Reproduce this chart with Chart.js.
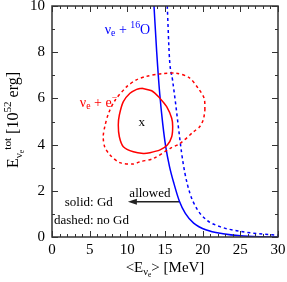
<!DOCTYPE html>
<html>
<head>
<meta charset="utf-8">
<script src="https://cdn.jsdelivr.net/npm/chart.js@4.4.0/dist/chart.umd.min.js"></script>
<style>
body { margin: 0; background: #fff; }
</style>
</head>
<body>
<canvas id="myChart" width="287" height="282"></canvas>
<script>
// nu_e + 16O limit, solid: with Gd
const oxySolidX = [13.54, 13.9, 14.3, 14.7, 15.1, 15.6, 16.2, 16.9, 17.7, 18.8, 20.5, 22.7, 25, 27.5, 30];
const oxySolidY = [10, 8.0, 6.2, 4.9, 3.9, 3.05, 2.3, 1.56, 1.02, 0.6, 0.3, 0.14, 0.05, 0.01, 0];
// dashed: no Gd
const oxyDashedX = [15.3, 15.6, 16.0, 16.4, 16.8, 17.2, 17.65, 18.3, 19.2, 20.5, 22.3, 24.5, 27.2, 29.5, 30];
const oxyDashedY = [10, 7.7, 6.8, 5.8, 4.7, 3.65, 2.75, 1.9, 1.24, 0.74, 0.45, 0.27, 0.15, 0.09, 0.08];

// nu_e + e contours
const elSolidX = [11.9, 13.23, 14.34, 15.22, 15.89, 16.02, 15.89, 15.31, 14.34, 13.0, 12.12, 10.8, 9.47, 8.94, 8.8, 8.94, 9.47, 10.35, 11.24, 11.9];
const elSolidY = [6.44, 6.33, 6.0, 5.64, 5.14, 4.78, 4.34, 3.98, 3.77, 3.65, 3.62, 3.69, 3.91, 4.34, 4.85, 5.28, 5.86, 6.22, 6.39, 6.44];
const elDashedX = [20.3, 20.2, 19.4, 18.2, 16.5, 14.5, 12.5, 11.2, 9.9, 8.4, 7.5, 7.0, 6.8, 7.0, 7.7, 9.0, 10.8, 11.7, 13.45, 15.7, 17.0, 18.8, 19.6, 20.1, 20.3];
const elDashedY = [5.5, 6.0, 6.44, 6.9, 7.09, 7.07, 6.95, 6.8, 6.5, 5.93, 5.35, 4.77, 4.34, 3.9, 3.55, 3.22, 3.16, 3.26, 3.4, 3.84, 4.05, 4.56, 4.77, 5.1, 5.5];

// true point
const markX = [11.9];
const markY = [4.95];

// "allowed" arrow
const arrowX = [16.9, 10.6];
const arrowY = [1.53, 1.53];

const xTicks = [0, 5, 10, 15, 20, 25, 30];
const yTicks = [0, 2, 4, 6, 8, 10];

const FONT = 'Liberation Serif';

function pts(xs, ys) {
    return xs.map((x, i) => ({ x: x, y: ys[i] }));
}

// draws text pieces with sub/superscripts, returns width
function richText(ctx, parts, size, x, y, doDraw) {
    let cx = x;
    for (const p of parts) {
        const s = size * (p.s || 1);
        ctx.font = s + 'px "' + FONT + '"';
        if (doDraw) ctx.fillText(p.t, cx, y + size * (p.dy || 0));
        cx += ctx.measureText(p.t).width;
    }
    return cx - x;
}

function drawLabel(ctx, parts, size, x, y, color, align) {
    ctx.fillStyle = color;
    ctx.textAlign = 'left';
    ctx.textBaseline = 'middle';
    let w = richText(ctx, parts, size, 0, 0, false);
    let sx = align === 'center' ? x - w / 2 : x;
    richText(ctx, parts, size, sx, y, true);
}

const decorPlugin = {
    id: 'decor',
    afterDatasetsDraw(chart) {
        const ctx = chart.ctx;
        const a = chart.chartArea;
        const xs = chart.scales.x;
        const ys = chart.scales.y;
        ctx.save();

        // arrowhead
        const ax = xs.getPixelForValue(arrowX[1]);
        const ay = ys.getPixelForValue(arrowY[1]);
        ctx.fillStyle = '#222';
        ctx.beginPath();
        ctx.moveTo(ax - 4, ay);
        ctx.lineTo(ax + 5, ay - 3);
        ctx.lineTo(ax + 5, ay + 3);
        ctx.closePath();
        ctx.fill();

        // frame
        ctx.strokeStyle = '#333';
        ctx.lineWidth = 1.5;
        ctx.strokeRect(a.left, a.top, a.right - a.left, a.bottom - a.top);

        // inward ticks on all sides
        ctx.lineWidth = 1;
        ctx.beginPath();
        for (let v = 0; v <= 30; v++) {
            const px = Math.round(xs.getPixelForValue(v)) + 0.5;
            const len = v % 5 === 0 ? 6 : 3;
            ctx.moveTo(px, a.bottom); ctx.lineTo(px, a.bottom - len);
            ctx.moveTo(px, a.top); ctx.lineTo(px, a.top + len);
        }
        for (let v = 0; v <= 10; v++) {
            const py = Math.round(ys.getPixelForValue(v)) + 0.5;
            const len = v % 2 === 0 ? 6 : 3;
            ctx.moveTo(a.left, py); ctx.lineTo(a.left + len, py);
            ctx.moveTo(a.right, py); ctx.lineTo(a.right - len, py);
        }
        ctx.stroke();

        // annotations
        const lx = (v) => xs.getPixelForValue(v);
        const ly = (v) => ys.getPixelForValue(v);
        drawLabel(ctx, [{ t: 'ν' }, { t: 'e', s: 0.7, dy: 0.25 }, { t: ' + ' }, { t: '16', s: 0.7, dy: -0.35 }, { t: 'O' }],
            14, lx(7.0), ly(8.96), '#0000ff', 'left');
        drawLabel(ctx, [{ t: 'ν' }, { t: 'e', s: 0.7, dy: 0.25 }, { t: ' + e' }, { t: '−', s: 0.7, dy: -0.35 }],
            14, lx(3.7), ly(5.8), '#ff0000', 'left');
        drawLabel(ctx, [{ t: 'x' }], 13, lx(markX[0]), ly(markY[0]), '#000', 'center');
        drawLabel(ctx, [{ t: 'allowed' }], 13, lx(13.0), ly(1.86), '#000', 'center');
        drawLabel(ctx, [{ t: 'solid: Gd' }], 13, lx(1.7), ly(1.5), '#000', 'left');
        drawLabel(ctx, [{ t: 'dashed: no Gd' }], 13, lx(0.25), ly(0.69), '#000', 'left');

        // axis titles
        drawLabel(ctx, [{ t: '<E' }, { t: 'ν', s: 0.7, dy: 0.3 }, { t: 'e', s: 0.5, dy: 0.5 }, { t: '> [MeV]' }],
            15, (a.left + a.right) / 2, 268, '#000', 'center');
        ctx.translate(14, 120);
        ctx.rotate(-Math.PI / 2);
        drawLabel(ctx, [{ t: 'E' }, { t: 'ν', s: 0.7, dy: 0.3 }, { t: 'e', s: 0.5, dy: 0.5 }, { t: 'tot', s: 0.7, dy: -0.4 },
            { t: ' [10' }, { t: '52', s: 0.7, dy: -0.4 }, { t: ' erg]' }],
            16, 0, 0, '#000', 'center');
        ctx.restore();
    }
};

const ctx = document.getElementById('myChart').getContext('2d');

const myChart = new Chart(ctx, {
    type: 'scatter',
    data: {
        datasets: [
            { data: pts(elDashedX, elDashedY), showLine: true, borderColor: '#ff0000', borderWidth: 1.5, borderDash: [3, 3], pointRadius: 0, tension: 0.3 },
            { data: pts(elSolidX, elSolidY), showLine: true, borderColor: '#ff0000', borderWidth: 1.5, pointRadius: 0, tension: 0.3 },
            { data: pts(oxyDashedX, oxyDashedY), showLine: true, borderColor: '#0000ff', borderWidth: 1.5, borderDash: [3, 3], pointRadius: 0, cubicInterpolationMode: 'monotone' },
            { data: pts(oxySolidX, oxySolidY), showLine: true, borderColor: '#0000ff', borderWidth: 1.5, pointRadius: 0, cubicInterpolationMode: 'monotone' },
            { data: pts(arrowX, arrowY), showLine: true, borderColor: '#222', borderWidth: 1.5, pointRadius: 0 }
        ]
    },
    options: {
        responsive: false,
        animation: false,
        devicePixelRatio: 1,
        layout: { padding: { top: 6, right: 9, left: 0, bottom: 0 } },
        plugins: { legend: { display: false }, tooltip: { enabled: false } },
        scales: {
            x: {
                type: 'linear',
                min: 0,
                max: 30,
                afterBuildTicks: (s) => { s.ticks = xTicks.map(v => ({ value: v })); },
                afterFit: (s) => { s.height = 45; s.paddingLeft = 0; s.paddingRight = 0; },
                grid: { display: false, drawTicks: false },
                border: { display: false },
                ticks: { color: '#000', padding: 4, font: { family: FONT, size: 15 } }
            },
            y: {
                type: 'linear',
                min: 0,
                max: 10,
                afterBuildTicks: (s) => { s.ticks = yTicks.map(v => ({ value: v })); },
                afterFit: (s) => { s.width = 52; s.paddingTop = 0; s.paddingBottom = 0; },
                grid: { display: false, drawTicks: false },
                border: { display: false },
                ticks: { color: '#000', padding: 7, font: { family: FONT, size: 15 } }
            }
        }
    },
    plugins: [decorPlugin]
});
</script>
</body>
</html>
